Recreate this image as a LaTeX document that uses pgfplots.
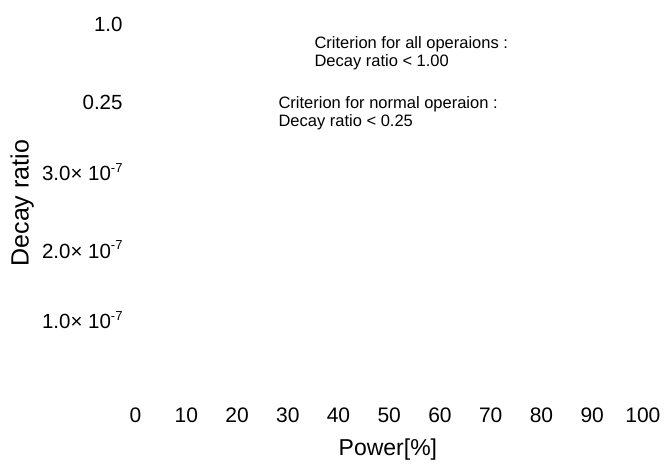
\documentclass[border=0pt]{standalone}
\usepackage{pgfplots}
\pgfplotsset{compat=1.18}
\usepackage{fontspec}
\setmainfont{Liberation Sans}
\newcommand{\sci}[1]{#1\texttimes\ 10\raisebox{0.42em}{\fontsize{13}{13}\selectfont -7}}
\begin{document}
\begin{tikzpicture}
\begin{axis}[
  scale only axis, width=670pt, height=466pt,
  xmin=-26.70, xmax=105.32, ymin=-466, ymax=0,
  axis line style={draw=none}, major tick length=0pt,
  clip=false,
  xtick={0,10,20,30,40,50,60,70,80,90,100},
  xticklabels={0,10,20,30,40,50,60,70,80,90,100},
  xticklabel style={anchor=center, yshift=51pt, font=\fontsize{21}{24}\selectfont},
  ytick={-320,-249.5,-172,-102,-24},
  yticklabels={{\sci{1.0}},{\sci{2.0}},{\sci{3.0}},{0.25},{1.0}},
  yticklabel style={anchor=east, xshift=126pt, font=\fontsize{20.5}{24}\selectfont},
]
\node[anchor=base west, font=\fontsize{16.5}{18.5}\selectfont] at (axis cs:34.58,-48.3) {Criterion for all operaions :};
\node[anchor=base west, font=\fontsize{16.5}{18.5}\selectfont] at (axis cs:34.58,-66.7) {Decay ratio < 1.00};
\node[anchor=base west, font=\fontsize{16.5}{18.5}\selectfont] at (axis cs:27.49,-108.3) {Criterion for normal operaion :};
\node[anchor=base west, font=\fontsize{16.5}{18.5}\selectfont] at (axis cs:27.49,-126.7) {Decay ratio < 0.25};
\node[rotate=90, font=\fontsize{25}{29}\selectfont] at (rel axis cs:0.0328,0.564) {Decay ratio};
\node[font=\fontsize{23}{27}\selectfont] at (rel axis cs:0.579,0.0343) {Power[\%]};
\end{axis}
\end{tikzpicture}
\end{document}
